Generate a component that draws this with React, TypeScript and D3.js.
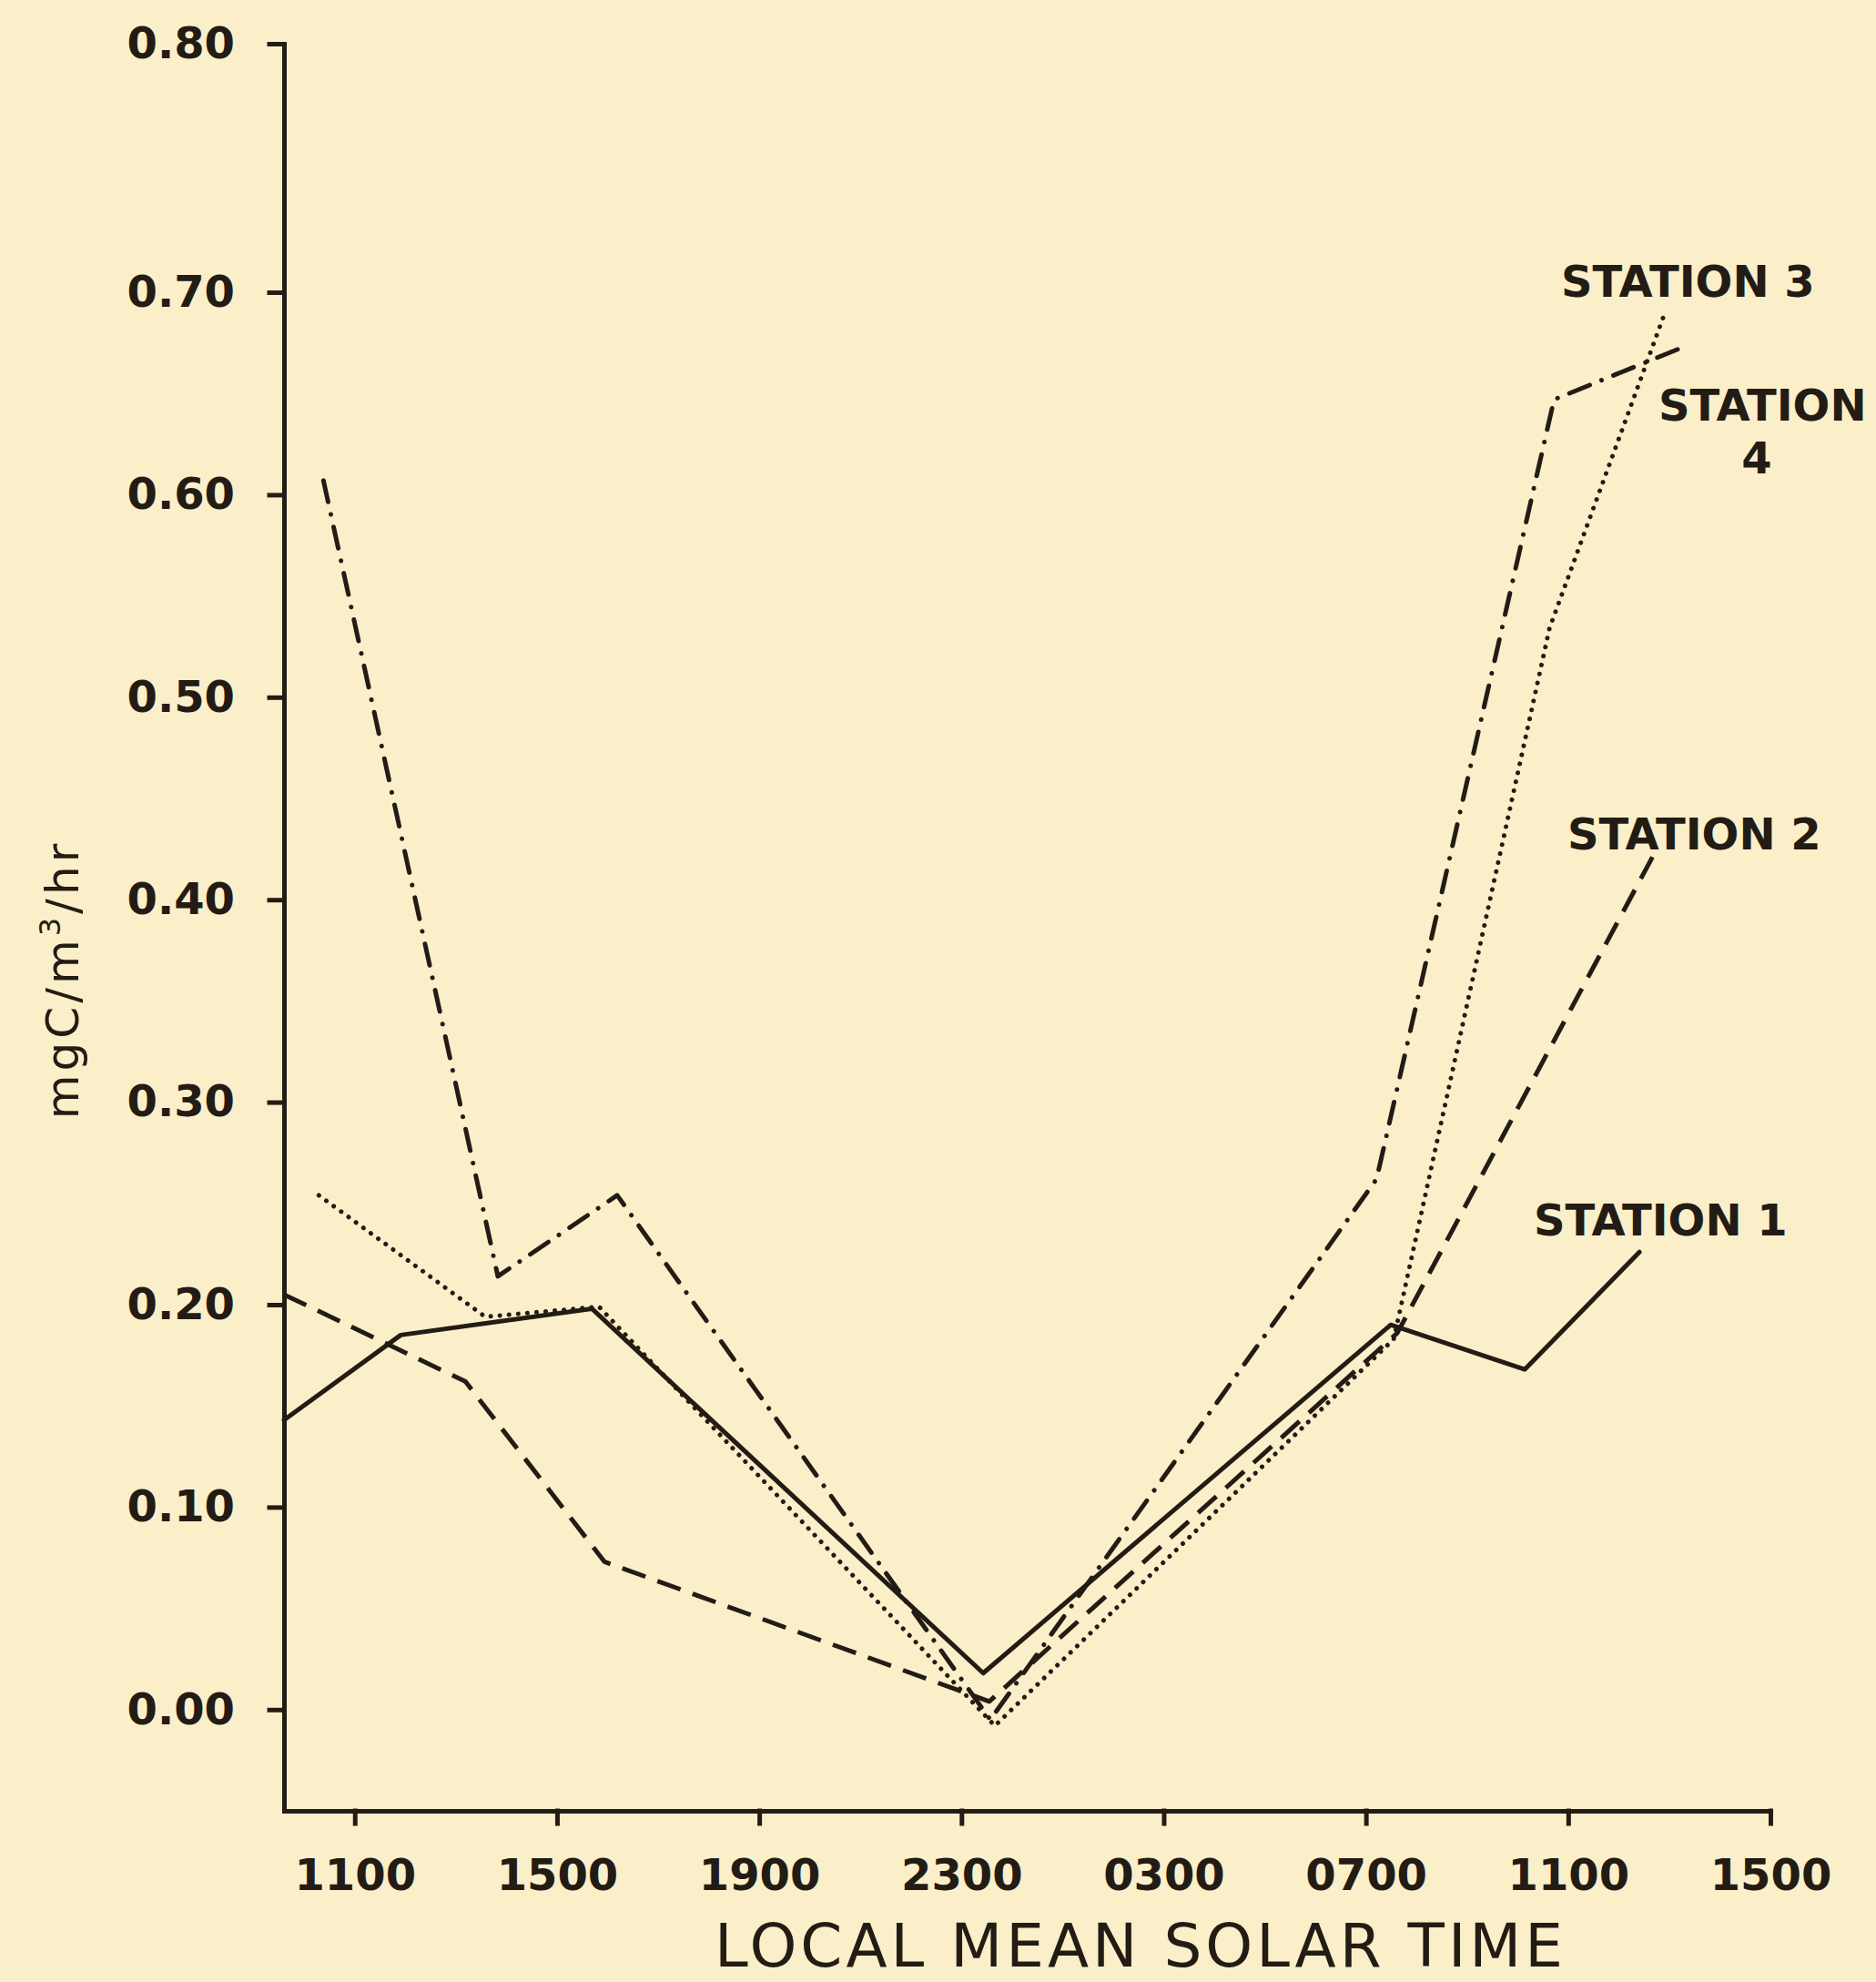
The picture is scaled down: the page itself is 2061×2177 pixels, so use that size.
import React, { useEffect, useRef } from 'react';
import * as d3 from 'd3';

// hours counted from 1100 on the first day
const timeTicks = [0, 4, 8, 12, 16, 20, 24, 28];
const timeLabels = ['1100', '1500', '1900', '2300', '0300', '0700', '1100', '1500'];
const valueTicks = [0, 0.1, 0.2, 0.3, 0.4, 0.5, 0.6, 0.7, 0.8];

const station1Hours = [-1.4, 0.91, 4.69, 12.43, 20.49, 23.14, 25.41];
const station1Values = [0.143, 0.185, 0.198, 0.018, 0.19, 0.168, 0.226];

const station2Hours = [-1.4, 2.19, 4.94, 12.55, 20.62, 25.73];
const station2Values = [0.205, 0.162, 0.073, 0.004, 0.186, 0.424];

const station3Hours = [-0.71, 2.58, 4.83, 12.66, 20.55, 23.63, 25.93];
const station3Values = [0.254, 0.194, 0.199, -0.008, 0.183, 0.534, 0.691];

const station4Hours = [-0.62, 2.83, 5.19, 12.57, 20.21, 23.72, 26.38];
const station4Values = [0.607, 0.214, 0.254, -0.005, 0.262, 0.647, 0.674];

const W = 2061;
const H = 2177;
const BG = '#FBEFCA';
const INK = '#231c15';
const FONT = '"DejaVu Sans", sans-serif';

interface Pt { h: number; v: number; }

const zip = (hs: number[], vs: number[]): Pt[] => hs.map((h, i) => ({ h, v: vs[i] }));

export default function App() {
  const svgRef = useRef<SVGSVGElement>(null);

  useEffect(() => {
    if (!svgRef.current) return;
    const svg = d3.select(svgRef.current);
    svg.selectAll('*').remove();

    svg.append('rect').attr('width', W).attr('height', H).attr('fill', BG);

    const x = d3.scaleLinear().domain([-1.4, 28]).range([312, 1945]);
    // the hand-drawn axis has a longer interval between 0.70 and 0.80
    const y = d3.scaleLinear().domain([-0.05, 0.7, 0.8]).range([1989, 321, 48]);

    // X axis
    const gx = svg.append('g')
      .attr('transform', `translate(0,${y(-0.05)})`)
      .call(d3.axisBottom(x)
        .tickValues(timeTicks)
        .tickFormat((_d, i) => timeLabels[i])
        .tickSize(14)
        .tickSizeOuter(0)
        .tickPadding(39) as any);
    gx.attr('color', INK).attr('font-family', FONT).attr('font-size', 48).attr('font-weight', 'bold');
    gx.selectAll('path, line').attr('stroke-width', 5).attr('stroke-linecap', 'square');

    // Y axis
    const gy = svg.append('g')
      .attr('transform', `translate(${x(-1.4)},0)`)
      .call(d3.axisLeft(y)
        .tickValues(valueTicks)
        .tickFormat(d3.format('.2f') as any)
        .tickSize(16)
        .tickSizeOuter(0)
        .tickPadding(38) as any);
    gy.attr('color', INK).attr('font-family', FONT).attr('font-size', 48).attr('font-weight', 'bold');
    gy.selectAll('path, line').attr('stroke-width', 5).attr('stroke-linecap', 'square');

    // axis titles
    svg.append('text')
      .attr('x', 1253)
      .attr('y', 2160)
      .attr('text-anchor', 'middle')
      .attr('font-family', FONT)
      .attr('font-size', 66)
      .attr('letter-spacing', 4)
      .attr('fill', INK)
      .text('LOCAL MEAN SOLAR TIME');

    const yt = svg.append('text')
      .attr('transform', 'translate(86,1076) rotate(-90)')
      .attr('text-anchor', 'middle')
      .attr('font-family', FONT)
      .attr('font-size', 50)
      .attr('letter-spacing', 4)
      .attr('fill', INK);
    yt.append('tspan').text('mgC/m');
    yt.append('tspan').attr('font-size', 32).attr('dy', -20).text('3');
    yt.append('tspan').attr('dy', 20).text('/hr');

    // series
    const line = d3.line<Pt>().x(d => x(d.h)).y(d => y(d.v));

    const series = [
      { data: zip(station1Hours, station1Values), dash: null, cap: 'round' },
      { data: zip(station2Hours, station2Values), dash: '27 14', cap: 'butt' },
      { data: zip(station3Hours, station3Values), dash: '0.1 10', cap: 'round' },
      { data: zip(station4Hours, station4Values), dash: '24 14 0.1 14', cap: 'round' }
    ];

    series.forEach(s => {
      svg.append('path')
        .datum(s.data)
        .attr('fill', 'none')
        .attr('stroke', INK)
        .attr('stroke-width', 5)
        .attr('stroke-linejoin', 'round')
        .attr('stroke-linecap', s.cap)
        .attr('stroke-dasharray', s.dash)
        .attr('d', line);
    });

    // station labels
    const label = (tx: number, ty: number, text: string, anchor = 'start') => {
      svg.append('text')
        .attr('x', tx)
        .attr('y', ty)
        .attr('text-anchor', anchor)
        .attr('font-family', FONT)
        .attr('font-size', 48)
        .attr('font-weight', 'bold')
        .attr('fill', INK)
        .text(text);
    };
    label(1715, 326, 'STATION 3');
    label(1822, 462, 'STATION');
    label(1930, 520, '4', 'middle');
    label(1722, 933, 'STATION 2');
    label(1685, 1357, 'STATION 1');
  }, []);

  return (
    <svg
      ref={svgRef}
      width={W}
      height={H}
      style={{ position: 'absolute', left: 0, top: 0, display: 'block' }}
    />
  );
}
